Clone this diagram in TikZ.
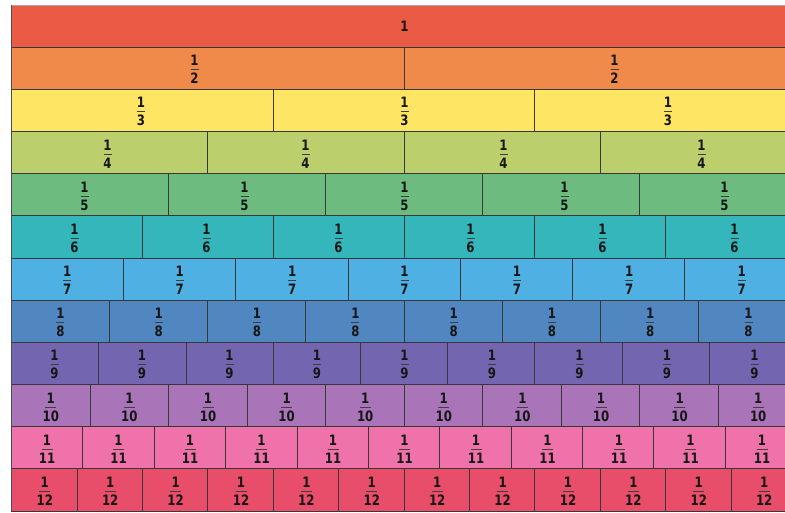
\documentclass[tikz,border=0pt]{standalone}
\usepackage{fontspec}
\newfontfamily\dig[FakeStretch=0.82]{DejaVu Sans}
\definecolor{c1}{HTML}{EB5A45}
\definecolor{c2}{HTML}{F08A4B}
\definecolor{c3}{HTML}{FEE664}
\definecolor{c4}{HTML}{BBD06C}
\definecolor{c5}{HTML}{6DBB7F}
\definecolor{c6}{HTML}{35B6BB}
\definecolor{c7}{HTML}{4FB0E4}
\definecolor{c8}{HTML}{5087C1}
\definecolor{c9}{HTML}{7465B0}
\definecolor{c10}{HTML}{AA74B8}
\definecolor{c11}{HTML}{EF73AA}
\definecolor{c12}{HTML}{E84D6A}
\definecolor{ink}{HTML}{161616}
\begin{document}
\begin{tikzpicture}[x=1pt,y=-1pt,
  cellline/.style={draw=black!78, line width=0.8pt},
  lbl/.style={font=\dig\bfseries\fontsize{14.3}{15}\selectfont, text=ink, inner sep=0pt, anchor=base},
  fbar/.style={draw=black!75, line width=0.9pt}]
\useasboundingbox (0,0) rectangle (785,513);
\clip (0,0) rectangle (785,513);
\fill[white] (0,0) rectangle (785,513);
\def\L{11.5}\def\W{785}\def\T{5}\def\H{42.17}
\foreach \n/\S in {1/0,2/420,3/263.5,4/198,5/160,6/132,7/112.4,8/98.3,9/87.5,10/78.6,11/71.5,12/65.4}{
  \pgfmathsetmacro\ry{\T+(\n-1)*\H}
  \pgfmathsetmacro\rb{\ry+\H}
  \pgfmathsetmacro\yc{\ry+\H/2}
  \pgfmathsetmacro\cw{\W/\n}
  \pgfmathsetmacro\hw{\n>9 ? 5.5 : 4}
  \foreach \k in {1,...,\n}{
    \pgfmathsetmacro\xa{\L+(\k-1)*\cw}
    \pgfmathsetmacro\xb{\L+\k*\cw}
    \fill[c\n] (\xa,\ry) rectangle (\xb,\rb);
    \draw[cellline] (\xa,\ry) rectangle (\xb,\rb);
  }
  \ifnum\n=1
    \node[lbl] (one) at (404.5,\yc+5.5) {1};
  \else
    \foreach \k in {1,...,\n}{
      \pgfmathsetmacro\lx{404.5+(\k-(\n+1)/2)*\S}
      \node[lbl] (n\n-\k) at (\lx,\yc-2.5) {1};
      \draw[fbar] (\lx-\hw,\yc+1.5) -- (\lx+\hw,\yc+1.5);
      \node[lbl] (d\n-\k) at (\lx,\yc+15.5) {\n};
    }
  \fi
}
\draw[black!70, line width=1.6pt] (\L,\T) -- (\L,511);
\draw[black!35, line width=0.8pt] (\L,\T) -- (785,\T);
\end{tikzpicture}
\end{document}
